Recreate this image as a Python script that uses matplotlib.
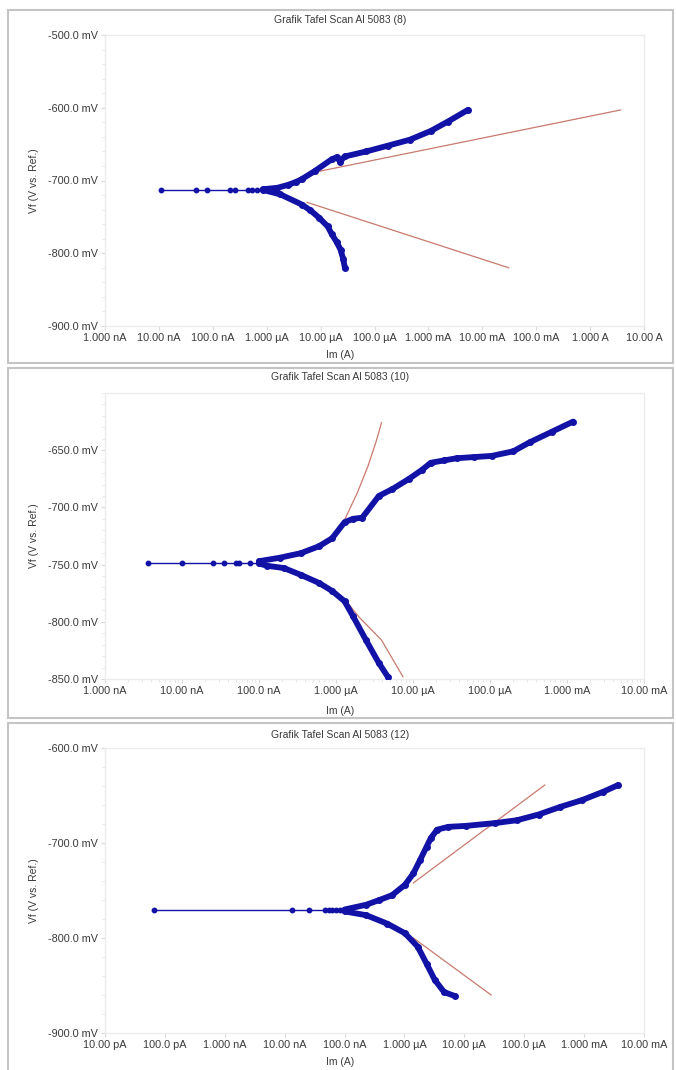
import numpy as np
import matplotlib
matplotlib.use('Agg')
import matplotlib.pyplot as plt
from matplotlib.patches import Rectangle
from matplotlib.ticker import FixedLocator, MultipleLocator, LogLocator, NullFormatter

plt.rcParams['font.family'] = ['Liberation Sans', 'DejaVu Sans']

W, H = 676, 1070
BLUE = '#1212a6'
RED = '#c87a6e'
TXT = '#3a3a3a'

titles = ['Grafik Tafel Scan Al 5083 (8)',
          'Grafik Tafel Scan Al 5083 (10)',
          'Grafik Tafel Scan Al 5083 (12)']

# ---- Al 5083 (8) ----
p8_ecorr_I = [1.1e-8, 4.9e-8, 7.8e-8, 2.1e-7, 2.6e-7, 4.5e-7, 5.4e-7, 6.5e-7, 8.5e-7]
p8_ecorr_E = [-713, -713, -713, -713, -713, -713, -713, -713, -713]
p8_cath_I = [8.5e-7, 1.78e-6, 4.47e-6, 6.46e-6, 9.3e-6, 1.35e-5, 1.62e-5, 2.0e-5, 2.34e-5, 2.63e-5, 2.82e-5]
p8_cath_E = [-713, -719, -733, -741, -751, -763, -774, -785, -795, -808, -820]
p8_anod_I = [8.5e-7, 1.58e-6, 2.5e-6, 3.5e-6, 4.5e-6, 7.8e-6, 1.6e-5, 2.0e-5, 2.3e-5, 2.8e-5,
             7.1e-5, 1.8e-4, 4.5e-4, 1.1e-3, 2.3e-3, 5.4e-3]
p8_anod_E = [-712, -710, -706, -702, -698, -687, -671, -668, -674, -667,
             -660, -652, -644, -632, -619, -603]
p8_fitc_I = [5.6e-6, 3.1e-2]
p8_fitc_E = [-730, -820]
p8_fita_I = [6.3e-6, 3.7]
p8_fita_E = [-690, -603]

# ---- Al 5083 (10) ----
p10_ecorr_I = [3.6e-9, 1.0e-8, 2.5e-8, 3.5e-8, 5.0e-8, 5.5e-8, 7.6e-8, 1.0e-7]
p10_ecorr_E = [-749, -749, -749, -749, -749, -749, -749, -749]
p10_cath_I = [1.0e-7, 1.26e-7, 2.1e-7, 3.5e-7, 6.0e-7, 8.9e-7, 1.29e-6, 1.66e-6, 2.45e-6, 3.6e-6, 4.7e-6]
p10_cath_E = [-749, -751, -753, -759, -766, -773, -782, -795, -816, -836, -848]
p10_anod_I = [1.0e-7, 1.86e-7, 3.5e-7, 6.0e-7, 8.9e-7, 1.29e-6, 1.66e-6, 2.19e-6, 3.6e-6, 5.4e-6,
              8.9e-6, 1.32e-5, 1.7e-5, 2.5e-5, 3.7e-5, 6.2e-5, 1.05e-4, 2.0e-4, 3.3e-4, 6.3e-4, 1.2e-3]
p10_anod_E = [-747, -744, -740, -734, -727, -713, -710, -709, -690, -684,
              -675, -667, -661, -659, -657, -656, -655, -651, -643, -634, -625]
p10_fitc_I = [1.29e-6, 2.0e-6, 3.9e-6, 7.4e-6]
p10_fitc_E = [-780, -796, -816, -848]
p10_fita_I = [1.29e-6, 1.9e-6, 2.6e-6, 3.3e-6, 3.9e-6]
p10_fita_E = [-711, -687, -664, -643, -626]

# ---- Al 5083 (12) ----
p12_ecorr_I = [6.6e-11, 1.32e-8, 2.57e-8, 4.8e-8, 5.4e-8, 6.2e-8, 7.2e-8, 8.5e-8, 1.0e-7]
p12_ecorr_E = [-771, -771, -771, -771, -771, -771, -771, -771, -771]
p12_cath_I = [1.0e-7, 2.3e-7, 5.2e-7, 1.02e-6, 1.66e-6, 2.34e-6, 3.2e-6, 4.6e-6, 6.9e-6]
p12_cath_E = [-772, -776, -785, -795, -809, -827, -844, -857, -861]
p12_anod_I = [1.0e-7, 2.3e-7, 3.8e-7, 6.2e-7, 1.02e-6, 1.41e-6, 1.82e-6, 2.34e-6, 2.75e-6, 3.5e-6,
              5.4e-6, 1.05e-5, 3.3e-5, 7.6e-5, 1.74e-4, 4.0e-4, 9.1e-4, 2.1e-3, 3.7e-3]
p12_anod_E = [-770, -765, -760, -755, -744, -732, -718, -704, -695, -686,
              -683, -682, -679, -676, -670, -662, -655, -646, -639]
p12_fitc_I = [1.41e-6, 2.8e-5]
p12_fitc_E = [-800, -860]
p12_fita_I = [1.41e-6, 2.2e-4]
p12_fita_E = [-742, -639]

# x tick labels per panel
p8_xt = [1e-9, 1e-8, 1e-7, 1e-6, 1e-5, 1e-4, 1e-3, 1e-2, 1e-1, 1e0, 1e1]
p8_xl = ['1.000 nA', '10.00 nA', '100.0 nA', '1.000 µA', '10.00 µA', '100.0 µA',
         '1.000 mA', '10.00 mA', '100.0 mA', '1.000 A', '10.00 A']
p10_xt = [1e-9, 1e-8, 1e-7, 1e-6, 1e-5, 1e-4, 1e-3, 1e-2]
p10_xl = ['1.000 nA', '10.00 nA', '100.0 nA', '1.000 µA', '10.00 µA', '100.0 µA',
          '1.000 mA', '10.00 mA']
p12_xt = [1e-11, 1e-10, 1e-9, 1e-8, 1e-7, 1e-6, 1e-5, 1e-4, 1e-3, 1e-2]
p12_xl = ['10.00 pA', '100.0 pA', '1.000 nA', '10.00 nA', '100.0 nA', '1.000 µA',
          '10.00 µA', '100.0 µA', '1.000 mA', '10.00 mA']

p8_yt = [-900, -800, -700, -600, -500]
p10_yt = [-850, -800, -750, -700, -650]
p12_yt = [-900, -800, -700, -600]

panels = [
    dict(ax_px=(105, 35, 644, 326), frame_px=(8, 10, 673, 363), title_y=20, xlab_y=355,
         ecorr=(p8_ecorr_I, p8_ecorr_E), cath=(p8_cath_I, p8_cath_E), anod=(p8_anod_I, p8_anod_E),
         fits=[(p8_fitc_I, p8_fitc_E), (p8_fita_I, p8_fita_E)],
         xt=p8_xt, xl=p8_xl, yt=p8_yt, ylim=(-900, -500), yminor=20),
    dict(ax_px=(105, 393, 644, 679), frame_px=(8, 368, 673, 718), title_y=377, xlab_y=711,
         ecorr=(p10_ecorr_I, p10_ecorr_E), cath=(p10_cath_I, p10_cath_E), anod=(p10_anod_I, p10_anod_E),
         fits=[(p10_fitc_I, p10_fitc_E), (p10_fita_I, p10_fita_E)],
         xt=p10_xt, xl=p10_xl, yt=p10_yt, ylim=(-850, -600), yminor=10),
    dict(ax_px=(105, 748, 644, 1033), frame_px=(8, 723, 673, 1072), title_y=735, xlab_y=1062,
         ecorr=(p12_ecorr_I, p12_ecorr_E), cath=(p12_cath_I, p12_cath_E), anod=(p12_anod_I, p12_anod_E),
         fits=[(p12_fitc_I, p12_fitc_E), (p12_fita_I, p12_fita_E)],
         xt=p12_xt, xl=p12_xl, yt=p12_yt, ylim=(-900, -600), yminor=20),
]

fig = plt.figure(figsize=(W / 100, H / 100), dpi=100)

for title, p in zip(titles, panels):
    x0, y0, x1, y1 = p['ax_px']
    ax = fig.add_axes([x0 / W, 1 - y1 / H, (x1 - x0) / W, (y1 - y0) / H])

    # grey border round each panel
    fx0, fy0, fx1, fy1 = p['frame_px']
    fig.add_artist(Rectangle((fx0 / W, 1 - fy1 / H), (fx1 - fx0) / W, (fy1 - fy0) / H,
                             transform=fig.transFigure, fill=False, ec='#c4c4c4', lw=1.5))

    for fi, fe in p['fits']:
        ax.plot(fi, fe, color=RED, lw=0.9, zorder=2)
    ax.plot(*p['ecorr'], color=BLUE, lw=1.0, marker='o', ms=3.2, zorder=3)
    for br in (p['cath'], p['anod']):
        ax.plot(*br, color=BLUE, lw=4.2, solid_capstyle='round', solid_joinstyle='round', zorder=4)
        ax.plot(*br, color=BLUE, lw=0, marker='o', ms=4, zorder=4)

    ax.set_xscale('log')
    ax.set_xlim(p['xt'][0], p['xt'][-1])
    ax.set_ylim(*p['ylim'])
    ax.xaxis.set_major_locator(FixedLocator(p['xt']))
    ax.set_xticklabels(p['xl'])
    ax.xaxis.set_minor_locator(LogLocator(base=10, subs=np.arange(2, 10)))
    ax.xaxis.set_minor_formatter(NullFormatter())
    ax.set_yticks(p['yt'])
    ax.set_yticklabels(['%.1f mV' % v for v in p['yt']])
    ax.yaxis.set_minor_locator(MultipleLocator(p['yminor']))

    ax.tick_params(axis='both', which='major', labelsize=7.8, labelcolor=TXT, color='#d8d8d8',
                   length=3, pad=2)
    ax.tick_params(axis='both', which='minor', color='#e2e2e2', length=2)
    for s in ax.spines.values():
        s.set_color('#ececec')
        s.set_linewidth(1)

    fig.text(340 / W, 1 - p['title_y'] / H, title, ha='center', va='center', fontsize=7.5, color=TXT)
    fig.text(340 / W, 1 - p['xlab_y'] / H, 'Im (A)', ha='center', va='center', fontsize=7.5, color=TXT)
    fig.text(34 / W, 1 - (y0 + y1) / 2 / H, 'Vf (V vs. Ref.)', ha='center', va='center',
             rotation=90, fontsize=7.5, color=TXT)

fig.savefig('out.png', dpi=100)
